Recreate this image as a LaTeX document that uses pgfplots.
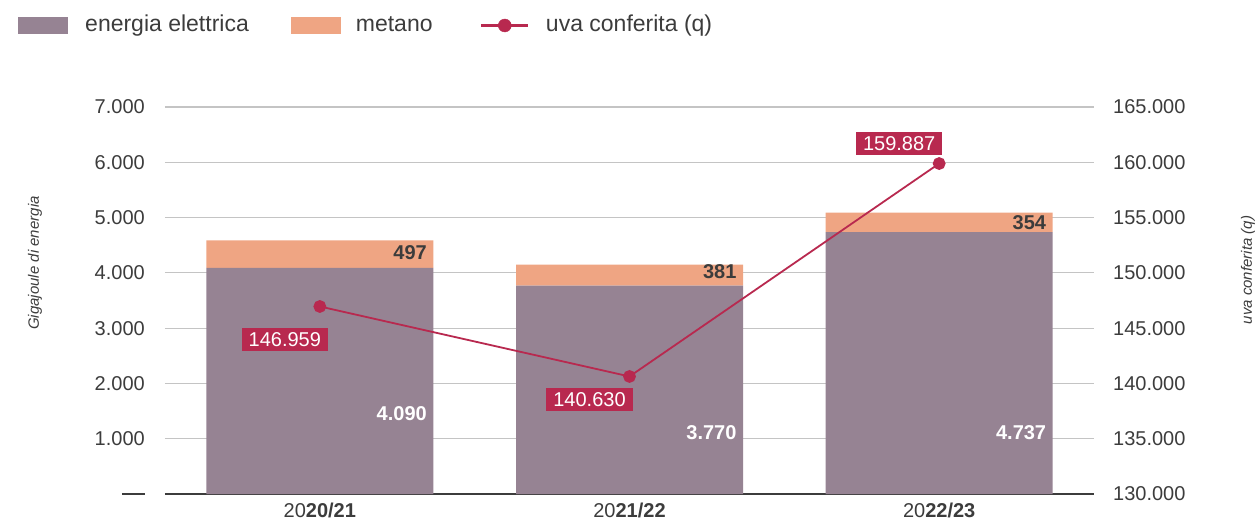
\documentclass[border=0pt]{standalone}
\usepackage{pgfplots}
\pgfplotsset{compat=1.18}
\usepackage{fontspec}
\setmainfont{Liberation Sans}
\definecolor{elet}{HTML}{968393}
\definecolor{met}{HTML}{EFA583}
\definecolor{uva}{HTML}{B8294F}
\definecolor{txt}{HTML}{3C3C3C}
\definecolor{gridc}{HTML}{C4C4C4}
\newcommand{\fs}[1]{\fontsize{#1}{#1}\selectfont}
\begin{document}
\begin{tikzpicture}
\begin{axis}[
  name=ax, anchor=south west, at={(0pt,0pt)},
  scale only axis, width=929pt, height=387pt,
  xmin=-0.5, xmax=2.5, ymin=0, ymax=7000,
  ybar stacked, bar width=227pt,
  axis x line*=bottom, axis y line*=left,
  y axis line style={draw=none}, ytick style={draw=none},
  x axis line style={draw=txt, line width=1.4pt},
  xtick={0,1,2},
  xticklabels={20\textbf{20/21},20\textbf{21/22},20\textbf{22/23}},
  major x tick style={draw=none},
  extra x ticks={-0.5,0.5,1.5,2.5}, extra x tick labels={},
  extra x tick style={major tick length=14pt, tick align=center,
     tick style={draw=txt, line width=1.2pt}, grid=none},
  xticklabel style={font=\fs{20}, text=txt, inner sep=0pt, yshift=-9pt},
  ytick={0,1000,2000,3000,4000,5000,6000,7000},
  yticklabels={\rule[0.5pt]{23pt}{2pt},1.000,2.000,3.000,4.000,5.000,6.000,7.000},
  yticklabel style={font=\fs{20}, text=txt, inner sep=0pt, xshift=-20pt},
  ymajorgrids, grid style={gridc, line width=1.2pt},
  legend columns=3,
  legend style={at={(-0.1582,1.2106)}, anchor=west, draw=none, fill=none,
    inner sep=0pt, font=\fs{23}, text=txt,
    nodes={inner sep=0pt, anchor=west, text height=16pt, text depth=4pt}},
]
\addplot+[fill=elet, draw=none,
  legend image code/.code={\fill[elet] (0pt,-8.5pt) rectangle (50pt,8.5pt); \path (67pt,0pt);}]
  coordinates {(0,4090) (1,3770) (2,4737)};
\addlegendentry{energia elettrica}
\addplot+[fill=met, draw=none,
  legend image code/.code={\path (-42pt,0pt); \fill[met] (0pt,-8.5pt) rectangle (50pt,8.5pt); \path (65pt,0pt);}]
  coordinates {(0,497) (1,381) (2,354)};
\addlegendentry{metano}
\addlegendimage{legend image code/.code={\path (-48pt,0pt);
   \draw[uva, line width=2.6pt] (0pt,0pt) -- (47pt,0pt);
   \fill[uva] (24pt,0pt) circle (6.5pt); \path (65pt,0pt);}}
\addlegendentry{uva conferita (q)}
\end{axis}
\begin{axis}[
  anchor=south west, at={(0pt,0pt)},
  scale only axis, width=929pt, height=387pt,
  xmin=-0.5, xmax=2.5, ymin=130000, ymax=165000,
  axis x line=none, axis y line*=right,
  y axis line style={draw=none}, ytick style={draw=none},
  scaled y ticks=false,
  ytick={130000,135000,140000,145000,150000,155000,160000,165000},
  yticklabels={130.000,135.000,140.000,145.000,150.000,155.000,160.000,165.000},
  yticklabel style={font=\fs{20}, text=txt, inner sep=0pt, anchor=west, xshift=19pt},
  clip=false,
]
% labels metano (left-axis values v shown at 130000+5v)
\node[anchor=east, inner sep=0pt, font=\fs{20}\bfseries, text=txt] at (axis cs:0.346,151795) {497};
\node[anchor=east, inner sep=0pt, font=\fs{20}\bfseries, text=txt] at (axis cs:1.346,150076) {381};
\node[anchor=east, inner sep=0pt, font=\fs{20}\bfseries, text=txt] at (axis cs:2.346,154507) {354};
% labels energia elettrica
\node[anchor=east, inner sep=0pt, font=\fs{20}\bfseries, text=white] at (axis cs:0.346,137235) {4.090};
\node[anchor=east, inner sep=0pt, font=\fs{20}\bfseries, text=white] at (axis cs:1.346,135515) {3.770};
\node[anchor=east, inner sep=0pt, font=\fs{20}\bfseries, text=white] at (axis cs:2.346,135515) {4.737};
\addplot[uva, line width=1.8pt, mark=*, mark size=5.5pt, mark options={fill=uva, draw=uva}]
  coordinates {(0,146959) (1,140630) (2,159887)};
\node[fill=uva, text=white, font=\fs{20}, inner xsep=7pt, inner ysep=4pt, xshift=-35pt, yshift=-33pt] at (axis cs:0,146959) {146.959};
\node[fill=uva, text=white, font=\fs{20}, inner xsep=7pt, inner ysep=4pt, xshift=-40pt, yshift=-23pt] at (axis cs:1,140630) {140.630};
\node[fill=uva, text=white, font=\fs{20}, inner xsep=7pt, inner ysep=4pt, xshift=-40pt, yshift=20pt] at (axis cs:2,159887) {159.887};
\end{axis}
\node[rotate=90, font=\fs{15}\itshape, text=txt] at (-130pt,231pt) {Gigajoule di energia};
\node[rotate=90, font=\fs{15}\itshape, text=txt] at (1083pt,224pt) {uva conferita (q)};
\pgfresetboundingbox
\path[use as bounding box] (-165pt,-31pt) rectangle (1094pt,494pt);
\end{tikzpicture}
\end{document}
